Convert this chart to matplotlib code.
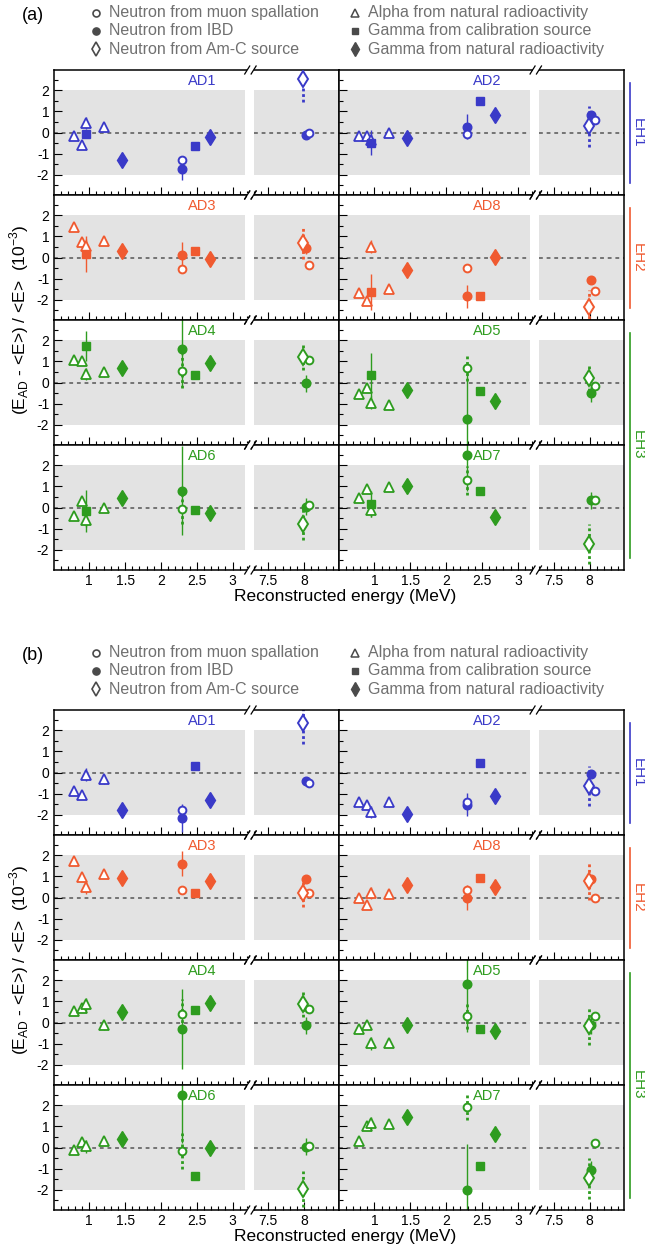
import numpy as np
import matplotlib.pyplot as plt
from matplotlib.ticker import FixedLocator, FixedFormatter

plt.rcParams['font.family'] = ['Liberation Sans', 'DejaVu Sans']
plt.rcParams['mathtext.fontset'] = 'custom'
plt.rcParams['mathtext.rm'] = 'Liberation Sans'
plt.rcParams['axes.unicode_minus'] = False

# detectors, in grid order (row by row, left then right)
ads = ['AD1', 'AD2', 'AD3', 'AD8', 'AD4', 'AD5', 'AD6', 'AD7']
halls = ['EH1', 'EH1', 'EH2', 'EH2', 'EH3', 'EH3', 'EH3', 'EH3']
hall_colors = {'EH1': '#3a3ac8', 'EH2': '#f05a30', 'EH3': '#2e9c1f'}

# reconstructed energies of each source (MeV)
alpha_e = [0.78, 0.90, 0.96, 1.21]
calib_e = [0.96, 2.47]
natgam_e = [1.46, 2.68]
ibd_e = [2.29, 8.02]
spall_e = [2.29, 8.07]
amc_e = [7.99]

alpha_err = [0.08, 0.1, 0.3, 0.2]
natgam_err = [0.1, 0.1]

# ---- panel (a) values, 1e-3 ----
alpha_a = [[-0.16, -0.59, 0.45, 0.27], [-0.16, -0.16, -0.37, -0.03],
           [1.44, 0.75, 0.56, 0.80], [-1.68, -2.03, 0.51, -1.49],
           [1.04, 1.00, 0.40, 0.48], [-0.56, -0.24, -0.96, -1.04],
           [-0.40, 0.29, -0.60, 0.00], [0.45, 0.86, -0.13, 0.96]]
calib_a = [[-0.05, -0.64], [-0.48, 1.49], [0.16, 0.32], [-1.63, -1.81],
           [1.73, 0.35], [0.35, -0.40], [-0.16, -0.13], [0.16, 0.77]]
calib_err_a = [[0.15, 0.05], [0.6, 0.05], [0.85, 0.05], [0.85, 0.05],
               [0.7, 0.05], [1.05, 0.05], [1.0, 0.05], [0.6, 0.05]]
natgam_a = [[-1.30, -0.22], [-0.24, 0.83], [0.30, -0.05], [-0.59, 0.03],
            [0.69, 0.93], [-0.35, -0.88], [0.43, -0.24], [1.00, -0.43]]
ibd_a = [[-1.71, -0.10], [0.27, 0.83], [0.14, 0.45], [-1.84, -1.04],
         [1.57, -0.03], [-1.73, -0.51], [0.80, 0.03], [2.48, 0.35]]
ibd_err_a = [[0.55, 0.15], [0.6, 0.2], [0.6, 0.3], [0.56, 0.15],
             [1.8, 0.4], [2.6, 0.4], [2.1, 0.4], [1.7, 0.4]]
spall_a = [[-1.31, 0.00], [-0.08, 0.59], [-0.56, -0.35], [-0.48, -1.60],
           [0.53, 1.07], [0.69, -0.16], [-0.05, 0.13], [1.28, 0.35]]
spall_err_a = [[0.2, 0.1], [0.2, 0.1], [0.15, 0.1], [0.15, 0.1],
               [0.8, 0.1], [0.6, 0.1], [0.75, 0.1], [0.7, 0.1]]
amc_a = [2.51, 0.29, 0.67, -2.35, 1.20, 0.21, -0.77, -1.71]
amc_err_a = [1.05, 0.98, 0.75, 0.8, 0.6, 0.6, 0.75, 0.95]

# ---- panel (b) values, 1e-3 ----
alpha_b = [[-0.88, -1.07, -0.11, -0.32], [-1.41, -1.52, -1.87, -1.41],
           [1.73, 0.99, 0.48, 1.12], [0.00, -0.35, 0.21, 0.16],
           [0.56, 0.69, 0.85, -0.14], [-0.32, -0.14, -0.99, -0.96],
           [-0.13, 0.27, 0.06, 0.30], [0.30, 1.02, 1.15, 1.12]]
calib_b = [[np.nan, 0.29], [np.nan, 0.45], [np.nan, 0.22], [np.nan, 0.93],
           [np.nan, 0.58], [np.nan, -0.30], [np.nan, -1.33], [np.nan, -0.88]]
calib_err_b = [[0, 0.05]] * 8
natgam_b = [[-1.76, -1.31], [-1.95, -1.12], [0.93, 0.80], [0.59, 0.51],
            [0.48, 0.90], [-0.14, -0.38], [0.40, 0.00], [1.44, 0.62]]
ibd_b = [[-2.16, -0.40], [-1.52, -0.08], [1.60, 0.88], [0.00, 0.88],
         [-0.30, -0.14], [1.84, -0.13], [2.50, 0.03], [-2.02, -1.06]]
ibd_err_b = [[0.65, 0.1], [0.55, 0.1], [0.6, 0.1], [0.6, 0.1],
             [1.9, 0.4], [2.3, 0.4], [2.3, 0.4], [2.2, 0.4]]
spall_b = [[-1.76, -0.50], [-1.41, -0.85], [0.37, 0.21], [0.37, -0.02],
           [0.42, 0.64], [0.29, 0.29], [-0.18, 0.05], [1.92, 0.19]]
spall_err_b = [[0.2, 0.1], [0.2, 0.1], [0.1, 0.1], [0.15, 0.1],
               [0.7, 0.1], [0.6, 0.1], [0.85, 0.1], [0.6, 0.1]]
amc_b = [2.35, -0.64, 0.21, 0.77, 0.88, -0.16, -1.94, -1.46]
amc_err_b = [1.0, 0.95, 0.65, 0.9, 0.6, 0.9, 0.85, 0.95]

legend_left = ['Neutron from muon spallation', 'Neutron from IBD', 'Neutron from Am-C source']
legend_right = ['Alpha from natural radioactivity', 'Gamma from calibration source',
                'Gamma from natural radioactivity']

# broken energy axis: 0.5-3.24 and 7.26-8.48 MeV glued together
B0, B1, GAP = 3.24, 7.26, 0.02


def fwd(e):
    e = np.asarray(e, float)
    mid = B0 + (e - B0) * GAP / (B1 - B0)
    return np.where(e <= B0, e, np.where(e >= B1, e - (B1 - B0) + GAP, mid))


def inv(x):
    x = np.asarray(x, float)
    mid = B0 + (x - B0) * (B1 - B0) / GAP
    return np.where(x <= B0, x, np.where(x >= B0 + GAP, x + (B1 - B0) - GAP, mid))


W, H = 645, 1253
fig = plt.figure(figsize=(W / 100, H / 100), dpi=100)
col_left = [53.5, 338.5]
col_w = [285.0, 285.5]
row_h = 125.0
panel_tops = [70.0, 710.0]
XMIN, XMAX = 0.5, 8.48

ov = fig.add_axes([0, 0, 1, 1], zorder=10)
ov.set_xlim(0, W)
ov.set_ylim(H, 0)
ov.axis('off')
ov.patch.set_visible(False)

major_x = [1, 1.5, 2, 2.5, 3, 7.5, 8]
minor_x = [v for v in np.round(np.concatenate([np.arange(0.6, 3.21, 0.1), np.arange(7.3, 8.41, 0.1)]), 2)
           if v not in major_x]


def errs(ax, x, y, e, c, dotted=False):
    eb = ax.errorbar(x, y, yerr=e, fmt='none', ecolor=c, capsize=0,
                     elinewidth=2.0 if dotted else 1.0, zorder=2)
    if dotted:
        eb[2][0].set_linestyle((0, (1, 1)))


def draw_panel(top, label, alpha_v, calib_v, calib_err, natgam_v, ibd_v, ibd_err,
               spall_v, spall_err, amc_v, amc_err):
    for k in range(8):
        row, col = divmod(k, 2)
        c = hall_colors[halls[k]]
        y0 = top + row * row_h
        ax = fig.add_axes([col_left[col] / W, 1 - (y0 + row_h) / H, col_w[col] / W, row_h / H])
        ax.set_xscale('function', functions=(fwd, inv))
        ax.set_xlim(XMIN, XMAX)
        ax.set_ylim(-2.95, 2.95)
        for seg in ([XMIN, 3.17], [7.30, XMAX]):
            ax.fill_between(seg, -2, 2, color='#e3e3e3', lw=0, zorder=0)
            ax.plot(seg, [0, 0], ls=(0, (2.5, 2.5)), color='#555555', lw=1.1, zorder=1)

        errs(ax, alpha_e, alpha_v[k], alpha_err, c)
        errs(ax, calib_e, calib_v[k], calib_err[k], c)
        errs(ax, natgam_e, natgam_v[k], natgam_err, c)
        errs(ax, ibd_e, ibd_v[k], ibd_err[k], c)
        errs(ax, spall_e, spall_v[k], spall_err[k], c, dotted=True)
        errs(ax, amc_e, [amc_v[k]], [amc_err[k]], c, dotted=True)

        ax.plot(alpha_e, alpha_v[k], '^', ms=6.5, mfc='white', mec=c, mew=1.3, zorder=3)
        ax.plot(calib_e, calib_v[k], 's', ms=5.6, color=c, zorder=4)
        ax.plot(natgam_e, natgam_v[k], 'd', ms=8, color=c, zorder=4)
        ax.plot(ibd_e, ibd_v[k], 'o', ms=6.2, color=c, zorder=4)
        ax.plot(spall_e, spall_v[k], 'o', ms=5.6, mfc='white', mec=c, mew=1.4, zorder=5)
        ax.plot(amc_e, [amc_v[k]], 'd', ms=8, mfc='white', mec=c, mew=1.4, zorder=5)

        ax.text(2.57, 2.45, ads[k], color=c, fontsize=10.5, ha='center', va='center')

        ax.xaxis.set_major_locator(FixedLocator(major_x))
        ax.xaxis.set_major_formatter(FixedFormatter([str(v) for v in major_x]))
        ax.xaxis.set_minor_locator(FixedLocator(minor_x))
        ax.yaxis.set_major_locator(FixedLocator([-2, -1, 0, 1, 2]))
        ax.yaxis.set_minor_locator(FixedLocator([-2.5, -1.5, -0.5, 0.5, 1.5, 2.5]))
        ax.tick_params(axis='x', which='both', direction='in', top=False, bottom=True,
                       labelbottom=(row == 3), labelsize=10, pad=3, width=0.8)
        ax.tick_params(axis='x', which='major', length=5.5)
        ax.tick_params(axis='x', which='minor', length=2.8)
        ax.tick_params(axis='y', which='both', direction='in', left=True, right=False,
                       labelleft=(col == 0), labelsize=10, pad=3, width=0.8)
        ax.tick_params(axis='y', which='major', length=5.5)
        ax.tick_params(axis='y', which='minor', length=3)
        for s in ax.spines.values():
            s.set_linewidth(1.1)

        # break marks on top and bottom spines
        frac = (float(fwd(B0 + 0.0)) + GAP / 2 - XMIN) / (float(fwd(XMAX)) - XMIN)
        bx = col_left[col] + frac * col_w[col]
        for yy in (y0, y0 + row_h):
            ov.plot([bx - 3.2, bx + 3.2], [yy, yy], color='white', lw=2.6, solid_capstyle='butt')
            for dx in (-3.2, 3.2):
                ov.plot([bx + dx - 2.5, bx + dx + 2.5], [yy + 4, yy - 4], color='black', lw=0.9)

    # hall labels on the right
    for hall, r0, r1 in (('EH1', 0, 1), ('EH2', 1, 2), ('EH3', 2, 4)):
        c = hall_colors[hall]
        ya, yb = top + r0 * row_h + 12.5, top + r1 * row_h - 12.5
        ov.plot([629.5, 629.5], [ya, yb], color=c, lw=1.2)
        ov.text(638, (ya + yb) / 2, hall, color=c, fontsize=11, rotation=270,
                ha='center', va='center')

    # legend
    ly = [top - 57.3, top - 39.3, top - 20.7]
    mk = dict(color='#4a4a4a', mew=1.2)
    ov.plot(95.5, ly[0], 'o', ms=5, mfc='white', mec='#4a4a4a', mew=1.2)
    ov.plot(95.5, ly[1], 'o', ms=5.2, color='#4a4a4a')
    ov.plot(95.5, ly[2], 'd', ms=7, mfc='white', mec='#4a4a4a', mew=1.2)
    ov.plot(354.7, ly[0], '^', ms=5.5, mfc='white', mec='#4a4a4a', mew=1.1)
    ov.plot(354.7, ly[1], 's', ms=5, color='#4a4a4a')
    ov.plot(354.7, ly[2], 'd', ms=7, color='#4a4a4a')
    for i in range(3):
        ov.text(109, ly[i], legend_left[i], color='#707070', fontsize=11.5, va='center', ha='left')
        ov.text(367.5, ly[i], legend_right[i], color='#707070', fontsize=11.5, va='center', ha='left')

    ov.text(33, top - 55, label, fontsize=13, ha='center', va='center')
    ov.text(345, top + 4 * row_h + 26, 'Reconstructed energy (MeV)', fontsize=12.5,
            ha='center', va='center')
    ov.text(19, top + 2 * row_h,
            '(E$_\\mathregular{AD}$ - <E>) / <E>  (10$^\\mathregular{-3}$)',
            fontsize=12.5, rotation=90, ha='center', va='center')


draw_panel(panel_tops[0], '(a)', alpha_a, calib_a, calib_err_a, natgam_a, ibd_a, ibd_err_a,
           spall_a, spall_err_a, amc_a, amc_err_a)
draw_panel(panel_tops[1], '(b)', alpha_b, calib_b, calib_err_b, natgam_b, ibd_b, ibd_err_b,
           spall_b, spall_err_b, amc_b, amc_err_b)

fig.savefig('out.png', dpi=100)
